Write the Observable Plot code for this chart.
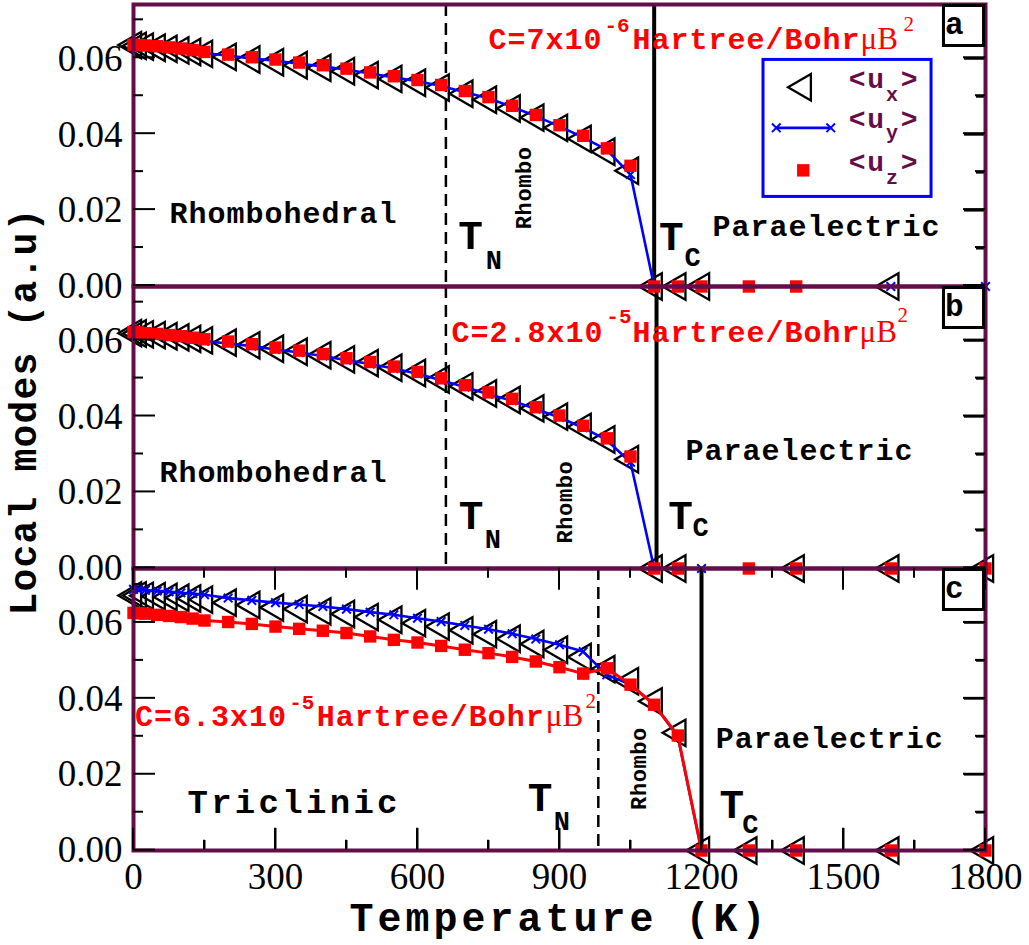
<!DOCTYPE html>
<html>
<head>
<meta charset="utf-8">
<script src="https://cdn.jsdelivr.net/npm/d3@7"></script>
<script src="https://cdn.jsdelivr.net/npm/@observablehq/plot@0.6"></script>
<style>
  body { margin: 0; background: #fff; }
  #chart svg { display: block; background: #fff; }
  g[font-size="30"] text, g[font-size="30px"] text { letter-spacing: 1px; }
  g[font-size="34"] text, g[font-size="34px"] text { letter-spacing: 3.3px; }
  g[font-size="40"] text, g[font-size="40px"] text { letter-spacing: 4px; }
  g[font-size="38"] text, g[font-size="38px"] text { letter-spacing: 1.2px; }
  g[font-size="28"] text, g[font-size="28px"] text { letter-spacing: 1.7px; }
  g[font-size="22"] text, g[font-size="22px"] text { letter-spacing: 0.6px; }
</style>
</head>
<body>
<div id="chart"></div>
<script>
// ---------- data ----------
const panels = ["a", "b", "c"];
const temps = [0, 10, 25, 50, 75, 100, 125, 150, 200, 250, 300, 350, 400, 450, 500, 550, 600, 650,
  700, 750, 800, 850, 900, 950, 1000, 1050, 1100, 1150, 1200, 1300, 1400, 1600, 1800];

// panel a : C = 7e-6
const uxA = [0.0636,0.0634,0.0632,0.0629,0.0626,0.0622,0.0618,0.0613,0.0605,0.0598,0.0591,0.0583,0.0576,0.0567,0.0557,0.0547,0.0537,0.0524,0.0508,0.0492,0.0469,0.0445,0.0418,0.0389,0.0355,0.0305,0,0,0,null,null,0,null];
const uyA = [0.0634,0.0633,0.0632,0.0630,0.0627,0.0624,0.0620,0.0615,0.0608,0.0601,0.0595,0.0587,0.0580,0.0571,0.0561,0.0551,0.0541,0.0528,0.0512,0.0496,0.0473,0.0449,0.0422,0.0393,0.0360,0.0295,0,0,0,0,0,0,0];
const uzA = [0.0637,0.0636,0.0635,0.0633,0.0630,0.0627,0.0623,0.0618,0.0611,0.0604,0.0598,0.0590,0.0583,0.0574,0.0564,0.0554,0.0544,0.0531,0.0515,0.0499,0.0476,0.0452,0.0425,0.0397,0.0364,0.0318,0,0,0,0,0,null,null];
// panel b : C = 2.8e-5
const uxB = [0.0620,0.0619,0.0617,0.0615,0.0612,0.0609,0.0605,0.0601,0.0595,0.0588,0.0579,0.0571,0.0562,0.0551,0.0541,0.0529,0.0515,0.0498,0.0480,0.0461,0.0444,0.0422,0.0400,0.0373,0.0340,0.0288,0,0,null,null,0,0,0];
const uyB = [0.0617,0.0616,0.0615,0.0613,0.0610,0.0607,0.0603,0.0599,0.0593,0.0586,0.0577,0.0569,0.0560,0.0549,0.0539,0.0527,0.0513,0.0496,0.0478,0.0459,0.0442,0.0420,0.0398,0.0371,0.0338,0.0280,0,0,0,0,0,0,0];
const uzB = [0.0623,0.0622,0.0620,0.0618,0.0615,0.0612,0.0608,0.0604,0.0598,0.0591,0.0582,0.0574,0.0565,0.0554,0.0544,0.0532,0.0518,0.0501,0.0483,0.0464,0.0447,0.0425,0.0403,0.0376,0.0343,0.0295,0,0,null,0,0,0,0];
// panel c : C = 6.3e-5
const uxC = [0.0672,0.0672,0.0671,0.0670,0.0668,0.0666,0.0664,0.0661,0.0653,0.0647,0.0640,0.0636,0.0630,0.0623,0.0615,0.0608,0.0599,0.0590,0.0580,0.0570,0.0558,0.0544,0.0529,0.0510,0.0478,0.0446,0.0393,0.0310,0,0,0,0,0];
const uyC = [0.0688,0.0687,0.0686,0.0684,0.0682,0.0679,0.0677,0.0674,0.0665,0.0659,0.0653,0.0648,0.0643,0.0636,0.0628,0.0621,0.0612,0.0603,0.0593,0.0583,0.0571,0.0557,0.0542,0.0524,0.0463,0.0437,0.0385,0.0300,0,0,0,0,0];
const uzC = [0.0626,0.0625,0.0624,0.0621,0.0618,0.0615,0.0611,0.0606,0.0602,0.0597,0.0590,0.0584,0.0579,0.0573,0.0564,0.0555,0.0548,0.0539,0.0529,0.0520,0.0510,0.0498,0.0483,0.0466,0.0480,0.0437,0.0384,0.0303,0,0,0,0,0];

const tN = [660, 660, 982];     // dashed lines
const tC = [1100, 1105, 1200];  // solid lines

const yMajor = [0, 0.02, 0.04, 0.06];
const yMinor = [0.01, 0.03, 0.05, 0.07];
const xMajor = [0, 300, 600, 900, 1200, 1500, 1800];
const xMinor = [150, 450, 750, 1050, 1350, 1650];

// annotations (anchored in data space)
const phaseNotes = [
  {panel: "a", T: 76, v: 0.0168, text: "Rhombohedral"},
  {panel: "a", T: 1223, v: 0.0133, text: "Paraelectric"},
  {panel: "b", T: 55, v: 0.0227, text: "Rhombohedral"},
  {panel: "b", T: 1166, v: 0.0285, text: "Paraelectric"},
  {panel: "c", T: 1230, v: 0.0270, text: "Paraelectric"}
];
const triclinicNote = [{panel: "c", T: 114, v: 0.0099, text: "Triclinic"}];
const tLabels = [
  {panel: "a", T: 686, v: 0.0099, text: "T"}, {panel: "a", T: 1110, v: 0.0096, text: "T"},
  {panel: "b", T: 687, v: 0.0105, text: "T"}, {panel: "b", T: 1130, v: 0.0105, text: "T"},
  {panel: "c", T: 833, v: 0.0104, text: "T"}, {panel: "c", T: 1238, v: 0.0086, text: "T"}
];
const tSubs = [
  {panel: "a", T: 744, v: 0.0047, text: "N"}, {panel: "a", T: 1164, v: 0.0054, text: "C"},
  {panel: "b", T: 742, v: 0.0053, text: "N"}, {panel: "b", T: 1181, v: 0.0085, text: "C"},
  {panel: "c", T: 888, v: 0.0055, text: "N"}, {panel: "c", T: 1286, v: 0.0045, text: "C"}
];
const rhomboNotes = [
  {panel: "a", T: 824, v: 0.0260, text: "Rhombo"},
  {panel: "b", T: 912, v: 0.0175, text: "Rhombo"},
  {panel: "c", T: 1067, v: 0.0216, text: "Rhombo"}
];
const redMain = [
  {panel: "a", T: 750, v: 0.0625, text: "C=7x10"}, {panel: "a", T: 1054, v: 0.0625, text: "Hartree/Bohr"},
  {panel: "b", T: 672, v: 0.0596, text: "C=2.8x10"}, {panel: "b", T: 1054, v: 0.0596, text: "Hartree/Bohr"},
  {panel: "c", T: 3, v: 0.0327, text: "C=6.3x10"}, {panel: "c", T: 387, v: 0.0327, text: "Hartree/Bohr"}
];
const redExp = [
  {panel: "a", T: 995, v: 0.0670, text: "-6"},
  {panel: "b", T: 999, v: 0.0647, text: "-5"},
  {panel: "c", T: 329, v: 0.0373, text: "-5"}
];
const redMu = [
  {panel: "a", T: 1536, v: 0.0625, text: "μB"},
  {panel: "b", T: 1534, v: 0.0596, text: "μB"},
  {panel: "c", T: 871, v: 0.0327, text: "μB"}
];
const redSq = [
  {panel: "a", T: 1627, v: 0.0674, text: "2"},
  {panel: "b", T: 1614, v: 0.0649, text: "2"},
  {panel: "c", T: 955, v: 0.0376, text: "2"}
];
// legend (panel a)
const legendBox = [{panel: "a", T1: 1331, T2: 1686, v1: 0.0236, v2: 0.0597}];
const legendTri = [{panel: "a", T: 1415, v: 0.0525}];
const legendLine = [{panel: "a", T: 1358, v: 0.0418}, {panel: "a", T: 1473, v: 0.0418}];
const legendSq = [{panel: "a", T: 1415, v: 0.0306}];
const legendMain = [
  {panel: "a", T: 1511, v: 0.0522, text: "<u"}, {panel: "a", T: 1621, v: 0.0522, text: ">"},
  {panel: "a", T: 1511, v: 0.0418, text: "<u"}, {panel: "a", T: 1621, v: 0.0418, text: ">"},
  {panel: "a", T: 1511, v: 0.0304, text: "<u"}, {panel: "a", T: 1621, v: 0.0304, text: ">"}
];
const legendSub = [
  {panel: "a", T: 1590, v: 0.0490, text: "x"},
  {panel: "a", T: 1590, v: 0.0388, text: "y"},
  {panel: "a", T: 1590, v: 0.0269, text: "z"}
];

// ---------- build tables ----------
const UX = [uxA, uxB, uxC], UY = [uyA, uyB, uyC], UZ = [uzA, uzB, uzC];
const rows = [];
panels.forEach((p, i) => temps.forEach((T, j) => rows.push({panel: p, T, ux: UX[i][j], uy: UY[i][j], uz: UZ[i][j]})));
const transitions = panels.map((p, i) => ({panel: p, tN: tN[i], tC: tC[i]}));

const purple = "#650d48";
const red = "#ff0000";
const blue = "#0000ff";
const mono = "Liberation Mono";
const serif = "Liberation Serif";

const W = 1029, H = 945, mL = 133, mR = 44, mT = 3, mB = 95;
const xMax = 1800, yMax = 0.0743;
const facetH = (H - mT - mB) / panels.length;
const major = 22, minor = 10;  // inward tick lengths in pixels
const tk = {tickFormat: () => "", label: null, stroke: "black", strokeWidth: 2};

const txt = (data, o) => Plot.text(data, {x: "T", y: "v", fy: "panel", text: "text", textAnchor: "start", lineAnchor: "bottom", fontFamily: mono, fontWeight: "bold", ...o});

const chart = Plot.plot({
  width: W,
  height: H,
  marginLeft: mL,
  marginRight: mR,
  marginTop: mT,
  marginBottom: mB,
  x: {domain: [0, xMax], axis: null},
  y: {domain: [0, yMax], axis: null},
  fy: {domain: panels, padding: 0, axis: null},
  marks: [
    // transition lines
    Plot.ruleX(transitions, {x: "tN", fy: "panel", stroke: "black", strokeWidth: 2.5, strokeDasharray: "12,7"}),
    Plot.ruleX(transitions, {x: "tC", fy: "panel", stroke: "black", strokeWidth: 4}),
    // data
    Plot.dot(rows, {x: "T", y: "ux", fy: "panel", symbol: "triangle", rotate: -90, r: 9.8, fill: "none", stroke: "black", strokeWidth: 2.3}),
    Plot.line(rows, {x: "T", y: "uy", fy: "panel", stroke: blue, strokeWidth: 2.6}),
    Plot.dot(rows, {x: "T", y: "uy", fy: "panel", symbol: "times", r: 4, stroke: blue, strokeWidth: 2}),
    Plot.line(rows.filter(d => d.panel === "c"), {x: "T", y: "uz", fy: "panel", stroke: red, strokeWidth: 3}),
    Plot.dot(rows, {x: "T", y: "uz", fy: "panel", symbol: "square", r: 7, fill: red, stroke: "none"}),
    // legend
    Plot.rect(legendBox, {x1: "T1", x2: "T2", y1: "v1", y2: "v2", fy: "panel", fill: "none", stroke: blue, strokeWidth: 3}),
    Plot.dot(legendTri, {x: "T", y: "v", fy: "panel", symbol: "triangle", rotate: -90, r: 9.8, fill: "none", stroke: "black", strokeWidth: 2.3}),
    Plot.line(legendLine, {x: "T", y: "v", fy: "panel", stroke: blue, strokeWidth: 2.6}),
    Plot.dot(legendLine, {x: "T", y: "v", fy: "panel", symbol: "times", r: 4, stroke: blue, strokeWidth: 2}),
    Plot.dot(legendSq, {x: "T", y: "v", fy: "panel", symbol: "square", r: 7, fill: red, stroke: "none"}),
    txt(legendMain, {fontSize: 28, fill: purple}),
    txt(legendSub, {fontSize: 20, fill: purple}),
    // inward ticks (library axis marks)
    Plot.axisY({anchor: "right", ticks: yMajor, tickSize: major, dx: -major, ...tk}),
    Plot.axisY({anchor: "right", ticks: yMinor, tickSize: minor, dx: -minor, ...tk}),
    Plot.axisX({anchor: "bottom", facetAnchor: "bottom", ticks: xMajor, tickSize: major, dy: -major, ...tk}),
    Plot.axisX({anchor: "bottom", facetAnchor: "bottom", ticks: xMinor, tickSize: minor, dy: -minor, ...tk}),
    // frame
    Plot.frame({stroke: purple, strokeWidth: 4}),
    // panel letters
    Plot.dot(panels, {fy: d => d, frameAnchor: "top-right", dx: -22, dy: 21, symbol: "square", r: 22.6, fill: "white", stroke: "black", strokeWidth: 3}),
    Plot.text(panels, {fy: d => d, text: d => d, frameAnchor: "top-right", dx: -22, dy: 20, lineAnchor: "middle", fontFamily: mono, fontWeight: "bold", fontSize: 31, fill: "black"}),
    // annotations
    txt(phaseNotes, {fontSize: 30, fill: "black"}),
    txt(triclinicNote, {fontSize: 34, fill: "black"}),
    txt(tLabels, {fontSize: 41, fill: "black"}),
    txt(tSubs, {fontSize: 27, fill: "black"}),
    txt(rhomboNotes, {fontSize: 22, rotate: -90, textAnchor: "middle", lineAnchor: "middle", fill: "black"}),
    txt(redMain, {fontSize: 30, fill: red}),
    txt(redExp, {fontSize: 21, fill: red}),
    txt(redMu, {fontSize: 31, fontFamily: serif, fontWeight: "normal", fill: red}),
    txt(redSq, {fontSize: 21, fontFamily: serif, fontWeight: "normal", fill: red}),
    // axis labels
    Plot.axisY({anchor: "left", ticks: yMajor, tickSize: 0, tickPadding: 11, tickFormat: d => d.toFixed(2), fontSize: 37, fontFamily: serif, label: null}),
    Plot.axisX({anchor: "bottom", ticks: xMajor, tickSize: 0, tickPadding: 12, tickFormat: d => String(d), fontSize: 37, fontFamily: serif, label: null}),
    // axis titles
    Plot.text([{panel: "b", text: "Local modes (a.u)"}], {fy: "panel", text: "text", frameAnchor: "left", dx: -98, dy: -16, rotate: -90, textAnchor: "middle", lineAnchor: "bottom", fontFamily: mono, fontWeight: "bold", fontSize: 38, fill: "black"}),
    Plot.text([{panel: "c", text: "Temperature (K)"}], {fy: "panel", text: "text", frameAnchor: "bottom", dy: 80, lineAnchor: "bottom", fontFamily: mono, fontWeight: "bold", fontSize: 40, fill: "black"})
  ]
});
document.getElementById("chart").append(chart);

// inward ticks laid on top, positioned with the plot's own x / y scales
try {
  const sx = chart.scale("x"), sy = chart.scale("y");
  const X = v => sx.apply(v), Y = v => sy.apply(v);
  const g = d3.select(chart).append("g").attr("stroke", "black").attr("stroke-width", 2).attr("fill", "none");
  const seg = (x1, y1, x2, y2) => g.append("line").attr("x1", x1).attr("y1", y1).attr("x2", x2).attr("y2", y2);
  panels.forEach((p, i) => {
    const off = i * facetH;
    yMajor.forEach(v => { seg(X(0), Y(v) + off, X(0) + major, Y(v) + off); seg(X(xMax) - major, Y(v) + off, X(xMax), Y(v) + off); });
    yMinor.forEach(v => {
      seg(X(0), Y(v) + off, X(0) + minor, Y(v) + off);
      if (v < 0.065) seg(X(xMax) - minor, Y(v) + off, X(xMax), Y(v) + off);
    });
    if (i === panels.length - 1) {
      const yb = Y(0) + off, yt = Y(yMax) + off;
      xMajor.forEach(t => { seg(X(t), yb, X(t), yb - major); seg(X(t), yt, X(t), yt + major); });
      xMinor.forEach(t => { seg(X(t), yb, X(t), yb - minor); seg(X(t), yt, X(t), yt + minor); });
    }
  });
} catch (e) { /* ticks are decoration only */ }
</script>
</body>
</html>
